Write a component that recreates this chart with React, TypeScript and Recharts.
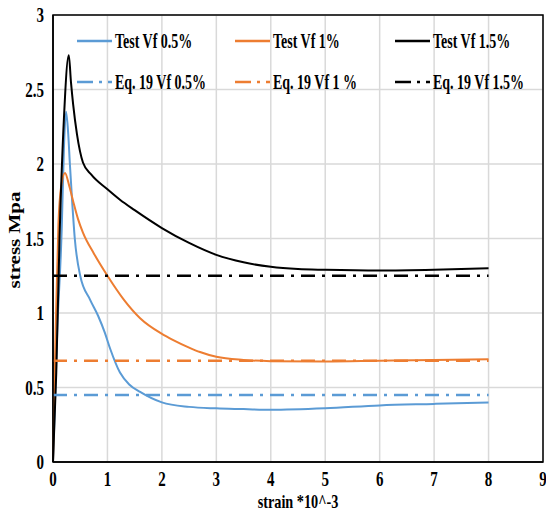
import React from 'react';
import { LineChart, Line, XAxis, YAxis, CartesianGrid, ReferenceArea } from 'recharts';

// [strain *10^-3, stress MPa]
const testVf05: [number, number][] = [
  [0, 0], [0.08, 0.9], [0.16, 1.56], [0.2, 2.1], [0.24, 2.35], [0.28, 2.2], [0.31, 2.0],
  [0.35, 1.76], [0.4, 1.5], [0.5, 1.25], [0.68, 1.09], [0.83, 0.98], [0.95, 0.87],
  [1.05, 0.76], [1.23, 0.6], [1.4, 0.52], [1.6, 0.47], [2.0, 0.4], [2.5, 0.37],
  [3, 0.36], [3.5, 0.355], [4, 0.35], [5, 0.36], [6, 0.38], [7, 0.39], [8, 0.4],
];
const testVf1: [number, number][] = [
  [0, 0], [0.05, 0.9], [0.1, 1.6], [0.15, 1.85], [0.22, 1.94], [0.3, 1.85], [0.37, 1.75],
  [0.46, 1.63], [0.55, 1.54], [0.75, 1.4], [1.0, 1.25], [1.3, 1.09], [1.6, 0.965],
  [2.0, 0.86], [2.2, 0.82], [2.5, 0.768], [2.7, 0.738], [3.0, 0.706], [3.5, 0.685],
  [4, 0.677], [5, 0.675], [6, 0.68], [7, 0.685], [8, 0.69],
];
const testVf15: [number, number][] = [
  [0, 0], [0.06, 0.6], [0.12, 1.5], [0.2, 2.3], [0.29, 2.73], [0.33, 2.55], [0.37, 2.4],
  [0.44, 2.2], [0.55, 2.01], [0.7, 1.93], [1.0, 1.83], [1.23, 1.76], [1.5, 1.69],
  [2.0, 1.57], [2.5, 1.47], [3.0, 1.39], [3.5, 1.34], [4.0, 1.31], [4.5, 1.295],
  [5, 1.29], [6, 1.285], [7, 1.29], [8, 1.3],
];
const eqStrain = [0, 8];
const eqVf05 = 0.45;
const eqVf1 = 0.68;
const eqVf15 = 1.25;

const xTicks = [0, 1, 2, 3, 4, 5, 6, 7, 8, 9];
const yTicks = [0, 0.5, 1, 1.5, 2, 2.5, 3];

const BLUE = '#5b9bd5';
const ORANGE = '#ed7d31';
const BLACK = '#000000';
const DASH = '14 7 3 7';
const FONT = '"Liberation Serif", "Times New Roman", serif';

const toPts = (arr: [number, number][]) => arr.map(([x, y]) => ({ x, y }));
const flat = (v: number) => eqStrain.map((x) => ({ x, y: v }));

const series = [
  { name: 'Test Vf 0.5%', data: toPts(testVf05), color: BLUE, dash: undefined },
  { name: 'Test Vf 1%', data: toPts(testVf1), color: ORANGE, dash: undefined },
  { name: 'Test Vf 1.5%', data: toPts(testVf15), color: BLACK, dash: undefined },
  { name: 'Eq. 19 Vf 0.5%', data: flat(eqVf05), color: BLUE, dash: DASH },
  { name: 'Eq. 19 Vf 1 %', data: flat(eqVf1), color: ORANGE, dash: DASH },
  { name: 'Eq. 19  Vf 1.5%', data: flat(eqVf15), color: BLACK, dash: DASH },
];

const YTick = (props: any) => {
  const { x, y, payload } = props;
  return (
    <g transform={`translate(${x},${y})`}>
      <text transform="scale(0.75,1)" textAnchor="end" dy="0.35em" fontFamily={FONT} fontWeight="bold" fontSize={20} fill="#000">
        {payload.value}
      </text>
    </g>
  );
};

const XTick = (props: any) => {
  const { x, y, payload } = props;
  return (
    <g transform={`translate(${x},${y})`}>
      <text transform="scale(0.75,1)" textAnchor="middle" dy="0.71em" fontFamily={FONT} fontWeight="bold" fontSize={20} fill="#000">
        {payload.value}
      </text>
    </g>
  );
};

const legendCols = [77, 235, 395];
const legendRows = [41, 82];

function LegendOverlay() {
  return (
    <svg width={546} height={530} style={{ position: 'absolute', left: 0, top: 0, pointerEvents: 'none' }}>
      {series.map((s, i) => {
        const cx = legendCols[i % 3];
        const cy = legendRows[Math.floor(i / 3)];
        return (
          <g key={s.name}>
            <line x1={cx} x2={cx + 35} y1={cy} y2={cy} stroke={s.color} strokeWidth={2.5} strokeDasharray={s.dash ? '16 6 3 6' : undefined} />
            <g transform={`translate(${cx + 38},${cy})`}>
              <text transform="scale(0.7,1)" dy="0.35em" fontFamily={FONT} fontWeight="bold" fontSize={20} fill="#000">
                {s.name}
              </text>
            </g>
          </g>
        );
      })}
    </svg>
  );
}

export default function App() {
  return (
    <div style={{ position: 'absolute', left: 0, top: 0, width: 546, height: 530, background: '#fff' }}>
      <LineChart width={546} height={530} margin={{ top: 15, right: 3, bottom: 10, left: 0 }}>
        <CartesianGrid stroke="#d9d9d9" strokeWidth={1.5} />
        <XAxis
          dataKey="x"
          type="number"
          domain={[0, 9]}
          ticks={xTicks}
          interval={0}
          height={58}
          tickLine={false}
          tickSize={0}
          tickMargin={10}
          axisLine={{ stroke: '#000', strokeWidth: 1.5 }}
          tick={<XTick />}
          allowDuplicatedCategory={false}
          label={(
            <g transform="translate(298,501)">
              <text transform="scale(0.75,1)" textAnchor="middle" dy="0.35em" fontFamily={FONT} fontWeight="bold" fontSize={19} fill="#000">
                strain *10^-3
              </text>
            </g>
          ) as any}
        />
        <YAxis
          type="number"
          domain={[0, 3]}
          ticks={yTicks}
          interval={0}
          width={53}
          tickLine={false}
          tickSize={0}
          tickMargin={9}
          axisLine={{ stroke: '#000', strokeWidth: 1.5 }}
          tick={<YTick />}
          label={(
            <g transform="translate(14,240) rotate(-90) scale(1,0.75)">
              <text textAnchor="middle" dy="0.35em" fontFamily={FONT} fontWeight="bold" fontSize={21} fill="#000">
                stress Mpa
              </text>
            </g>
          ) as any}
        />
        <ReferenceArea x1={xTicks[0]} x2={xTicks[xTicks.length - 1]} y1={yTicks[0]} y2={yTicks[yTicks.length - 1]} fill="none" stroke="#000" strokeWidth={1.5} />
        {series.map((s) => (
          <Line
            key={s.name}
            data={s.data}
            dataKey="y"
            type={s.dash ? 'linear' : 'monotone'}
            stroke={s.color}
            strokeWidth={s.dash ? 2.5 : 2}
            strokeDasharray={s.dash}
            dot={false}
            activeDot={false}
            isAnimationActive={false}
          />
        ))}
      </LineChart>
      <LegendOverlay />
    </div>
  );
}
